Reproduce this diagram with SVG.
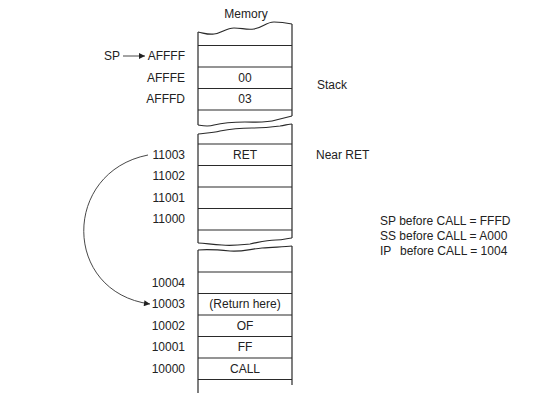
<svg xmlns="http://www.w3.org/2000/svg" width="540" height="403" viewBox="0 0 540 403">
<defs>
<style>
text{font-family:"Liberation Sans",Arial,sans-serif;font-size:12px;fill:#222}
.c{text-anchor:middle}
.a{text-anchor:end}
.ln{stroke:#2a2a2a;stroke-width:1.2;fill:none}
.con{stroke:#333;stroke-width:0.9;fill:none}
</style>
<marker id="ah" viewBox="0 0 10 10" refX="10" refY="5" markerWidth="8" markerHeight="6" markerUnits="userSpaceOnUse" orient="auto">
<path d="M0,0 L10,5 L0,10 Z" fill="#222"/>
</marker>
</defs>
<rect width="540" height="403" fill="#fff"/>
<text class="c" x="246" y="18">Memory</text>
<g id="memory-stack-section">
<path class="ln" d="M198,32 C204,33 208,35 214,34 C222,33 226,28 234,28 C242,28 246,30 254,29 C262,28 266,22 274,22 C282,22 287,23 292,24"/>
<path class="ln" d="M198,32 V125 M292,24 V116"/>
<path class="ln" d="M198,125 C204,126 208,127 214,125 C222,123 230,122 245,122 C258,122 266,123 276,120 C284,118 288,117 292,116"/>
<path class="ln" d="M198,45.5 H292 M198,67 H292 M198,88.5 H292 M198,110 H292"/>
</g>
<g id="memory-near-section">
<path class="ln" d="M198,134 C206,133 212,133 220,131 C230,129 240,128 252,128 C264,128 272,127 280,126 C286,125 290,124 292,124"/>
<path class="ln" d="M198,134 V243 M292,124 V238"/>
<path class="ln" d="M198,243 C206,243 212,245 222,245 C232,246 240,245 250,244 C260,242 266,240 276,240 C284,240 288,238 292,238"/>
<path class="ln" d="M198,144 H292 M198,165.5 H292 M198,187 H292 M198,208.5 H292 M198,230 H292"/>
</g>
<g id="memory-call-section">
<path class="ln" d="M198,250 C210,249 220,250 230,251 C242,252 250,249 262,248 C274,247 284,247 292,246"/>
<path class="ln" d="M198,250 V393 M292,246 V385"/>
<path class="ln" d="M198,272 H292 M198,293.5 H292 M198,315 H292 M198,336.5 H292 M198,358 H292 M198,379.5 H292"/>
</g>
<g id="cell-AFFFF"><text class="a" x="185" y="60">AFFFF</text></g>
<g id="cell-AFFFE"><text class="a" x="185" y="82">AFFFE</text><text class="c" x="245" y="82">00</text></g>
<g id="cell-AFFFD"><text class="a" x="185" y="103">AFFFD</text><text class="c" x="245" y="103">03</text></g>
<g id="sp-label"><text x="104" y="60">SP</text></g>
<g id="stack-label"><text x="317" y="89">Stack</text></g>
<g id="cell-11003"><text class="a" x="185" y="159">11003</text><text class="c" x="245" y="159">RET</text></g>
<g id="near-ret-label"><text x="316" y="159">Near RET</text></g>
<g id="cell-11002"><text class="a" x="185" y="180">11002</text></g>
<g id="cell-11001"><text class="a" x="185" y="202">11001</text></g>
<g id="cell-11000"><text class="a" x="185" y="223">11000</text></g>
<g id="cell-10004"><text class="a" x="185" y="287">10004</text></g>
<g id="cell-10003"><text class="a" x="185" y="308">10003</text><text class="c" x="245" y="308">(Return here)</text></g>
<g id="cell-10002"><text class="a" x="185" y="330">10002</text><text class="c" x="245" y="330">OF</text></g>
<g id="cell-10001"><text class="a" x="185" y="351">10001</text><text class="c" x="245" y="351">FF</text></g>
<g id="cell-10000"><text class="a" x="185" y="373">10000</text><text class="c" x="245" y="373">CALL</text></g>
<g id="notes">
<text x="380" y="225">SP before CALL = FFFD</text>
<text x="380" y="240">SS before CALL = A000</text>
<text x="380" y="255">IP<tspan x="400">before CALL = 1004</tspan></text>
</g>
<g id="connectors">
<path class="con" d="M123,56 H145" marker-end="url(#ah)"/>
<path class="con" d="M148,155 C62,172 62,292 150,304" marker-end="url(#ah)"/>
</g>
</svg>
